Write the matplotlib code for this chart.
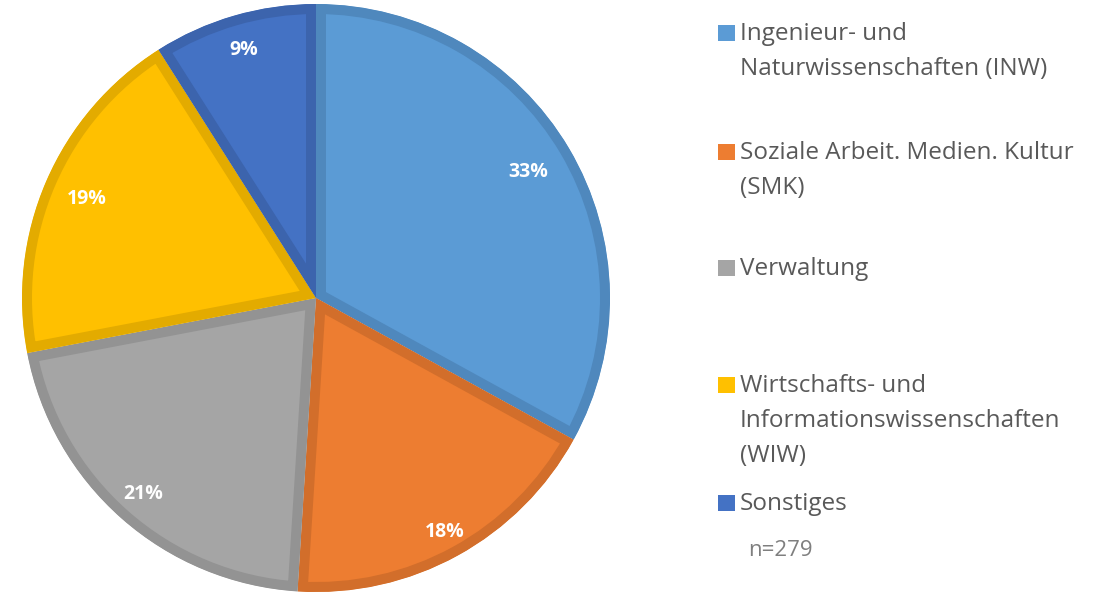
import matplotlib
matplotlib.use("Agg")
import matplotlib.pyplot as plt
import numpy as np
from matplotlib.patches import Rectangle

labels = [
    "Ingenieur- und\nNaturwissenschaften (INW)",
    "Soziale Arbeit. Medien. Kultur\n(SMK)",
    "Verwaltung",
    "Wirtschafts- und\nInformationswissenschaften\n(WIW)",
    "Sonstiges",
]
shares = [33, 18, 21, 19, 9]
faces = ["#5B9BD5", "#ED7D31", "#A5A5A5", "#FFC000", "#4472C4"]
edges = ["#4F88BD", "#D26E2B", "#939393", "#E3AB00", "#3C64AD"]

# radial position of each percentage label (fraction of radius)
label_dist = [0.84, 0.91, 0.89, 0.85, 0.88]
legend_y = [33, 152, 268, 385, 503]
sample_note = "n=279"

plt.rcParams["font.family"] = ["Open Sans", "DejaVu Sans"]

W, H = 1107, 593
fig = plt.figure(figsize=(W / 100, H / 100), dpi=100)

cx, cy, r = 316, 298, 294
ax = fig.add_axes([(cx - r) / W, (H - cy - r) / H, 2 * r / W, 2 * r / H])

border_px = 10
wedges, texts, autotexts = ax.pie(
    shares,
    colors=faces,
    startangle=90,
    counterclock=False,
    autopct="%d%%",
    pctdistance=0.86,
    radius=1.0,
    wedgeprops=dict(linewidth=2 * border_px * 0.72, joinstyle="miter"),
    textprops=dict(color="white", fontsize=14, fontweight="bold"),
)
for w, ec, t, d in zip(wedges, edges, autotexts, label_dist):
    w.set_edgecolor(ec)
    # keep only the inner half of the stroke
    w.set_clip_path(w)
    w.set_clip_on(True)
    mid = np.deg2rad((w.theta1 + w.theta2) / 2)
    t.set_position((d * np.cos(mid), d * np.sin(mid)))
ax.set_xlim(-1, 1)
ax.set_ylim(-1, 1)
ax.set_aspect("equal")
ax.axis("off")

for lab, y, col in zip(labels, legend_y, faces):
    fig.patches.append(Rectangle((718 / W, 1 - (y + 8) / H), 17 / W, 16 / H,
                                 transform=fig.transFigure, facecolor=col,
                                 edgecolor="none"))
    fig.text(740 / W, 1 - (y - 11) / H, lab, fontsize=17.5, color="#595959",
             va="top", ha="left", linespacing=1.62)

fig.text(748 / W, 1 - 551 / H, sample_note, fontsize=16, color="#7F7F7F", va="center")

fig.savefig("out.png", dpi=100)
